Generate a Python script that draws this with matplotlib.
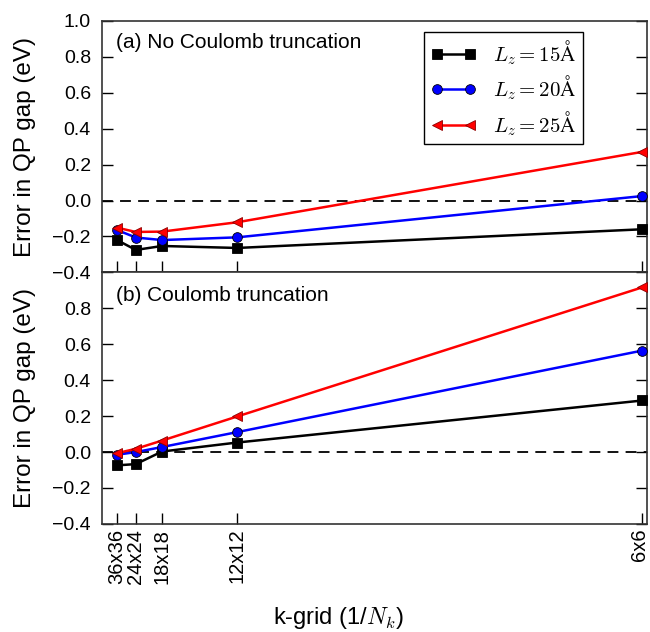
import matplotlib
matplotlib.use("Agg")
import matplotlib.pyplot as plt
import matplotlib.transforms as mtransforms
import numpy as np

# k-grids and error in QP gap (eV)
grids = ["36x36", "24x24", "18x18", "12x12", "6x6"]
nk = np.array([36, 24, 18, 12, 6])
xvals = 1.0 / nk**2

labels = [r"$L_z = 15\mathrm{\AA}$", r"$L_z = 20\mathrm{\AA}$", r"$L_z = 25\mathrm{\AA}$"]
no_trunc_15 = [-0.220, -0.275, -0.253, -0.264, -0.160]
no_trunc_20 = [-0.164, -0.206, -0.220, -0.205, 0.025]
no_trunc_25 = [-0.151, -0.175, -0.173, -0.121, 0.271]
trunc_15 = [-0.074, -0.067, 0.003, 0.053, 0.287]
trunc_20 = [-0.015, 0.000, 0.028, 0.111, 0.565]
trunc_25 = [-0.006, 0.018, 0.064, 0.198, 0.917]

plt.rcParams['font.family'] = ['Liberation Sans', 'DejaVu Sans']
plt.rcParams['mathtext.fontset'] = 'cm'

styles = [("black", "s"), ("blue", "o"), ("red", "<")]

fig, (ax1, ax2) = plt.subplots(2, 1, figsize=(6.5, 6.32), dpi=100, sharex=True)
fig.subplots_adjust(left=0.157, right=0.995, top=0.967, bottom=0.171, hspace=0)

panels = [(ax1, [no_trunc_15, no_trunc_20, no_trunc_25], "(a) No Coulomb truncation", 0.913),
          (ax2, [trunc_15, trunc_20, trunc_25], "(b) Coulomb truncation", 0.909)]

for ax, series, title, ty in panels:
    ax.axhline(0, color="black", lw=1.3, ls=(0, (6, 4)), zorder=1)
    for ys, (c, m), lab in zip(series, styles, labels):
        ax.plot(xvals, ys, color=c, marker=m, lw=1.8, ms=7, mec="black" if c != "red" else "darkred",
                mew=0.6, label=lab, clip_on=False, zorder=3)
    ax.set_ylim(-0.4, 1.0)
    ax.set_xlim(0, 0.028)
    ax.set_yticks(np.arange(-0.4, 1.01, 0.2))
    ax.tick_params(axis="y", direction="in", length=8, width=1, labelsize=14, right=True, pad=8)
    ax.tick_params(axis="x", direction="in", length=8, width=1, labelsize=14.5, top=False)
    ax.set_ylabel("Error in QP gap (eV)", fontsize=17.5)
    ax.yaxis.set_label_coords(-0.122, 0.5)
    ax.text(0.026, ty, title, transform=ax.transAxes, fontsize=15, va="center", ha="left")
    for sp in ax.spines.values():
        sp.set_linewidth(1.2)
        sp.set_color("#333333")

ax1.set_yticklabels(["\u22120.4", "\u22120.2", "0.0", "0.2", "0.4", "0.6", "0.8", "1.0"])
ax2.set_yticklabels(["\u22120.4", "\u22120.2", "0.0", "0.2", "0.4", "0.6", "0.8", ""])

ax2.set_xticks(xvals)
ax2.set_xticklabels(grids, rotation=90)
# keep the last label inside the canvas
last = ax2.get_xticklabels()[-1]
last.set_transform(last.get_transform() + mtransforms.ScaledTranslation(-3 / 100, 0, fig.dpi_scale_trans))
ax2.set_xlabel(r"k-grid (1/$N_k$)", fontsize=17)
ax2.xaxis.set_label_coords(0.433, -0.322)

leg = ax1.legend(loc="upper right", bbox_to_anchor=(0.8826, 0.956), borderaxespad=0,
                 numpoints=2, fontsize=15, handlelength=2.2, fancybox=False,
                 edgecolor="black", framealpha=1, labelspacing=0.33, borderpad=0.3)
leg.get_frame().set_linewidth(1.0)

fig.savefig("out.png", dpi=100)
